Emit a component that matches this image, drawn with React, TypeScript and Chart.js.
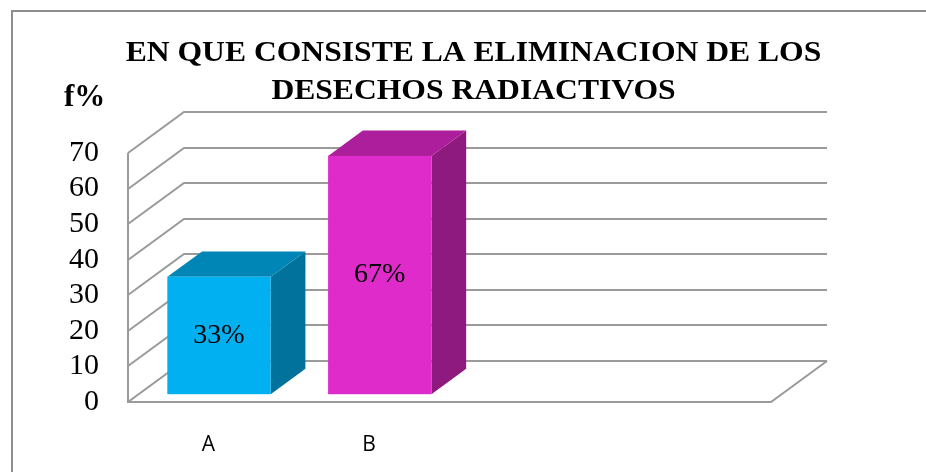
import React, { useEffect, useRef } from 'react';
import { Chart, registerables } from 'chart.js';

Chart.register(...registerables);

// Chart content
const titleLines = ['EN QUE CONSISTE LA ELIMINACION DE LOS', 'DESECHOS RADIACTIVOS'];
const axisTitle = 'f%';
const categories = ['A', 'B', '', ''];
const percentages: (number | null)[] = [33, 67, null, null];
const yMin = 0;
const yMax = 70;
const yStep = 10;

// Face colours per bar
const frontColors = ['#00B0F0', '#E02BCB'];
const topColors = ['#0086B6', '#AC1E9B'];
const sideColors = ['#00729B', '#8F1A7F'];

// Oblique projection of the chart depth
const DEPTH_X = 56;
const DEPTH_Y = -41;
const BAR_FRONT = 0.19;
const BAR_BACK = 0.81;
const GRID_COLOR = '#9A9A9A';
const SERIF = '"Liberation Serif", "Times New Roman", serif';

// Title typography (slightly widened bold serif)
const TITLE_SIZE = 29;
const TITLE_STRETCH = 1.09;
const TITLE_CENTER_X = 473.5;
const TITLE_BASELINES = [60.5, 98.5];

const depthPlugin = {
  id: 'depth3d',
  beforeDraw(chart: any) {
    const { ctx, width, height } = chart;
    ctx.save();
    // outer frame
    ctx.strokeStyle = '#8E8E8E';
    ctx.lineWidth = 2;
    ctx.beginPath();
    ctx.moveTo(12, height);
    ctx.lineTo(12, 11);
    ctx.lineTo(width, 11);
    ctx.stroke();
    // two-line title
    ctx.fillStyle = '#000';
    ctx.font = `bold ${TITLE_SIZE}px ${SERIF}`;
    ctx.textAlign = 'center';
    ctx.textBaseline = 'alphabetic';
    titleLines.forEach((line, i) => {
      ctx.save();
      ctx.translate(TITLE_CENTER_X, TITLE_BASELINES[i]);
      ctx.scale(TITLE_STRETCH, 1);
      ctx.fillText(line, 0, 0);
      ctx.restore();
    });
    ctx.restore();
  },
  beforeDatasetsDraw(chart: any) {
    const { ctx, chartArea } = chart;
    const y = chart.scales.y;
    const { left, right } = chartArea;
    ctx.save();
    ctx.strokeStyle = GRID_COLOR;
    ctx.lineWidth = 2;
    ctx.lineJoin = 'miter';
    // back wall + side wall lines for every tick
    y.ticks.forEach((t: any) => {
      const py = Math.round(y.getPixelForValue(t.value));
      ctx.beginPath();
      ctx.moveTo(left, py);
      ctx.lineTo(left + DEPTH_X, py + DEPTH_Y);
      ctx.lineTo(right + DEPTH_X, py + DEPTH_Y);
      ctx.stroke();
    });
    // front axis edge, floor front edge and right edge
    const p0 = Math.round(y.getPixelForValue(yMin));
    const pTop = Math.round(y.getPixelForValue(yMax));
    ctx.beginPath();
    ctx.moveTo(left, pTop);
    ctx.lineTo(left, p0);
    ctx.lineTo(right, p0);
    ctx.lineTo(right + DEPTH_X, p0 + DEPTH_Y);
    ctx.stroke();
    ctx.restore();
  },
  afterDatasetsDraw(chart: any) {
    const { ctx } = chart;
    const meta = chart.getDatasetMeta(0);
    const fx = DEPTH_X * BAR_FRONT;
    const fy = DEPTH_Y * BAR_FRONT;
    const dx = DEPTH_X * (BAR_BACK - BAR_FRONT);
    const dy = DEPTH_Y * (BAR_BACK - BAR_FRONT);
    ctx.save();
    meta.data.forEach((bar: any, i: number) => {
      const v = percentages[i];
      if (v === null || v === undefined) return;
      const p = bar.getProps(['x', 'y', 'base', 'width'], true);
      const xl = p.x - p.width / 2 + fx;
      const xr = p.x + p.width / 2 + fx;
      const yt = p.y + fy;
      const yb = p.base + fy;
      // side face
      ctx.fillStyle = sideColors[i];
      ctx.beginPath();
      ctx.moveTo(xr, yt);
      ctx.lineTo(xr + dx, yt + dy);
      ctx.lineTo(xr + dx, yb + dy);
      ctx.lineTo(xr, yb);
      ctx.closePath();
      ctx.fill();
      // top face
      ctx.fillStyle = topColors[i];
      ctx.beginPath();
      ctx.moveTo(xl, yt);
      ctx.lineTo(xl + dx, yt + dy);
      ctx.lineTo(xr + dx, yt + dy);
      ctx.lineTo(xr, yt);
      ctx.closePath();
      ctx.fill();
      // front face
      ctx.fillStyle = frontColors[i];
      ctx.fillRect(xl, yt, xr - xl, yb - yt);
      // value label
      ctx.fillStyle = '#000';
      ctx.font = `28px ${SERIF}`;
      ctx.textAlign = 'center';
      ctx.textBaseline = 'middle';
      ctx.fillText(`${v}%`, (xl + xr) / 2, (yt + yb) / 2);
    });
    // axis caption
    const yScale = chart.scales.y;
    ctx.fillStyle = '#000';
    ctx.font = `bold 31px ${SERIF}`;
    ctx.textAlign = 'left';
    ctx.textBaseline = 'alphabetic';
    ctx.fillText(axisTitle, yScale.left + 44, chart.chartArea.top - 47);
    ctx.restore();
  },
};

export default function App() {
  const canvasRef = useRef<HTMLCanvasElement | null>(null);

  useEffect(() => {
    const canvas = canvasRef.current;
    if (!canvas) return;
    const chart = new Chart(canvas, {
      type: 'bar',
      data: {
        labels: categories,
        datasets: [
          {
            data: percentages,
            backgroundColor: 'rgba(0,0,0,0)',
            borderWidth: 0,
            barPercentage: 0.643,
            categoryPercentage: 1,
          },
        ],
      },
      options: {
        responsive: false,
        animation: false,
        devicePixelRatio: 1,
        layout: { padding: { left: 20, right: 155, top: 153, bottom: 0 } },
        plugins: {
          legend: { display: false },
          tooltip: { enabled: false },
          title: { display: false },
        },
        scales: {
          x: {
            grid: { display: false, drawTicks: false },
            border: { display: false },
            ticks: {
              color: '#000',
              font: { family: '"Open Sans", sans-serif', size: 21 },
              padding: 30,
              maxRotation: 0,
              autoSkip: false,
            },
            afterFit: (scale: any) => {
              scale.height = 70;
            },
          },
          y: {
            min: yMin,
            max: yMax,
            grid: { display: false, drawTicks: false },
            border: { display: false },
            ticks: {
              stepSize: yStep,
              autoSkip: false,
              color: '#000',
              font: { family: SERIF, size: 30 },
              padding: 29,
            },
            afterFit: (scale: any) => {
              scale.width = 108;
            },
          },
        },
      },
      plugins: [depthPlugin],
    });
    return () => chart.destroy();
  }, []);

  return (
    <div style={{ position: 'absolute', left: 0, top: 0, width: 926, height: 472, background: '#fff' }}>
      <canvas ref={canvasRef} width={926} height={472} style={{ display: 'block' }} />
    </div>
  );
}
